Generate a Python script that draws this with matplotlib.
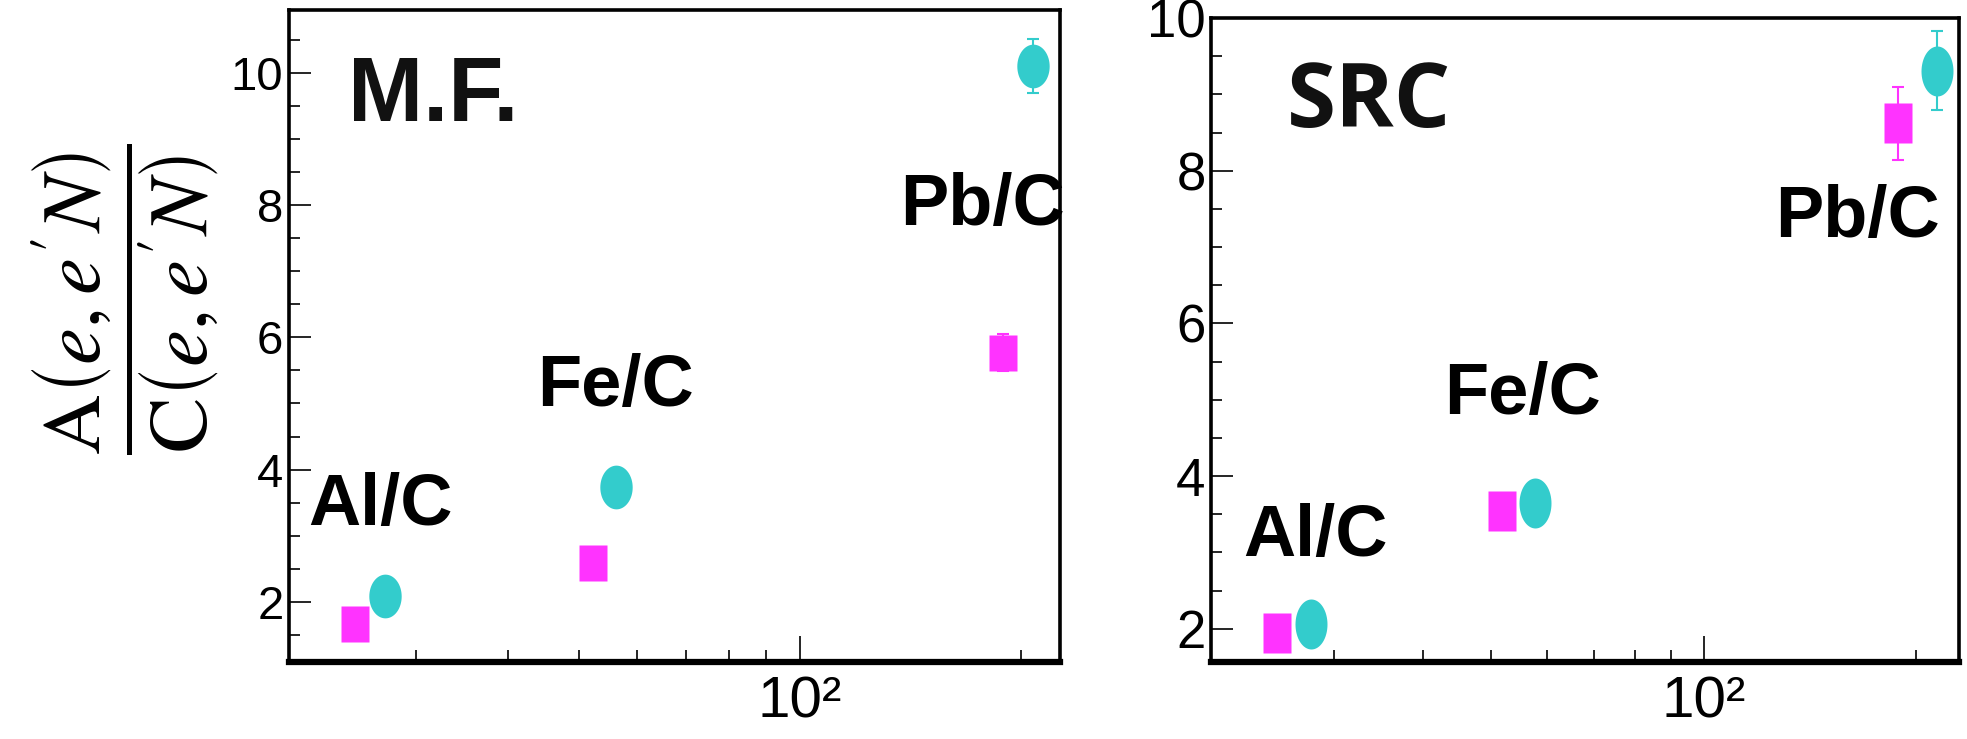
import numpy as np
import matplotlib.pyplot as plt
from matplotlib.path import Path
from matplotlib.ticker import MultipleLocator, LogLocator, FixedLocator, NullFormatter

plt.rcParams['mathtext.fontset'] = 'stix'

MAGENTA = '#ff33ff'
CYAN = '#33cccc'

labels = ['Al/C', 'Fe/C', 'Pb/C']

# mean field panel
mf_x_circ = [27.2, 56.2, 207.5]
mf_y_circ = [2.09, 3.74, 10.10]
mf_e_circ = [0.05, 0.05, 0.41]
mf_x_sq = [24.8, 52.2, 189]
mf_y_sq = [1.67, 2.59, 5.77]
mf_e_sq = [0.04, 0.04, 0.28]

# SRC panel
src_x_circ = [27.8, 57.7, 214]
src_y_circ = [2.06, 3.65, 9.31]
src_e_circ = [0.05, 0.05, 0.52]
src_x_sq = [24.9, 51.9, 188.7]
src_y_sq = [1.95, 3.54, 8.62]
src_e_sq = [0.04, 0.04, 0.48]


def ellipse(r):
    t = np.linspace(0, 2 * np.pi, 65)
    return Path(np.column_stack([r * np.cos(t), np.sin(t)]), closed=True)


def rect(r):
    return Path([(-r, -1), (r, -1), (r, 1), (-r, 1), (-r, -1)], closed=True)


def draw(ax, x, y, e, color, marker, ms):
    ax.errorbar(x, y, yerr=e, fmt='none', ecolor=color, elinewidth=1.5,
                capsize=4, capthick=1.5, zorder=2)
    ax.plot(x, y, ls='none', marker=marker, ms=ms, mfc=color, mec='none', zorder=3)


def style(ax, xlim, ylim, ylab_size):
    ax.set_xscale('log')
    ax.set_xlim(*xlim)
    ax.set_ylim(*ylim)
    ax.xaxis.set_major_locator(FixedLocator([100]))
    ax.xaxis.set_minor_locator(LogLocator(base=10, subs=np.arange(2, 10)))
    ax.xaxis.set_minor_formatter(NullFormatter())
    ax.set_xticklabels(['10\u00b2'], fontfamily='Liberation Sans', fontsize=42)
    ax.yaxis.set_major_locator(MultipleLocator(2))
    ax.yaxis.set_minor_locator(MultipleLocator(0.5))
    for t in ax.get_yticklabels():
        t.set_fontfamily('Liberation Sans')
        t.set_fontsize(ylab_size)
    ax.tick_params(which='both', direction='in', top=False, right=False, width=1.2)
    ax.tick_params(axis='y', which='major', length=16, pad=4)
    ax.tick_params(axis='y', which='minor', length=8)
    ax.tick_params(axis='x', which='major', length=19, pad=10)
    ax.tick_params(axis='x', which='minor', length=9)
    for s in ['top', 'left', 'right']:
        ax.spines[s].set_linewidth(2.6)
    ax.spines['bottom'].set_linewidth(4.5)


fig = plt.figure(figsize=(19.67, 7.39), dpi=100)
ax1 = fig.add_axes([0.1469, 0.1042, 0.3920, 0.8823])
ax2 = fig.add_axes([0.6157, 0.1042, 0.3802, 0.8714])

draw(ax1, mf_x_circ, mf_y_circ, mf_e_circ, CYAN, ellipse(0.74), 31.5)
draw(ax1, mf_x_sq, mf_y_sq, mf_e_sq, MAGENTA, rect(0.78), 26)
draw(ax2, src_x_circ, src_y_circ, src_e_circ, CYAN, ellipse(0.64), 36)
draw(ax2, src_x_sq, src_y_sq, src_e_sq, MAGENTA, rect(0.68), 29)

style(ax1, (20.15, 226), (1.09, 10.95), 34)
style(ax2, (20.07, 230), (1.565, 10.0), 38)

lab_kw = dict(fontfamily='Liberation Sans', fontweight='bold', fontsize=52,
              ha='center', va='center')
ax1.text(0.187, 0.865, 'M.F.', transform=ax1.transAxes, fontfamily='Liberation Sans',
         fontweight='bold', fontsize=65, color='#111111', ha='center', va='center')
for (px, py), lab in zip([(0.119, 0.239), (0.423, 0.422), (0.899, 0.699)], labels):
    ax1.text(px, py, lab, transform=ax1.transAxes, **lab_kw)

ax2.text(0.211, 0.866, 'SRC', transform=ax2.transAxes, fontfamily='Open Sans',
         fontweight='bold', fontsize=64, color='#111111', ha='center', va='center')
for (px, py), lab in zip([(0.140, 0.194), (0.417, 0.415), (0.864, 0.689)], labels):
    ax2.text(px, py, lab, transform=ax2.transAxes, **lab_kw)

fig.text(0.064, 0.595,
         r'$\dfrac{\mathrm{A}\left(e,e^{\prime}N\right)}{\mathrm{C}\left(e,e^{\prime}N\right)}$',
         rotation=90, fontsize=60, ha='center', va='center')

fig.savefig('out.png', dpi=100)
